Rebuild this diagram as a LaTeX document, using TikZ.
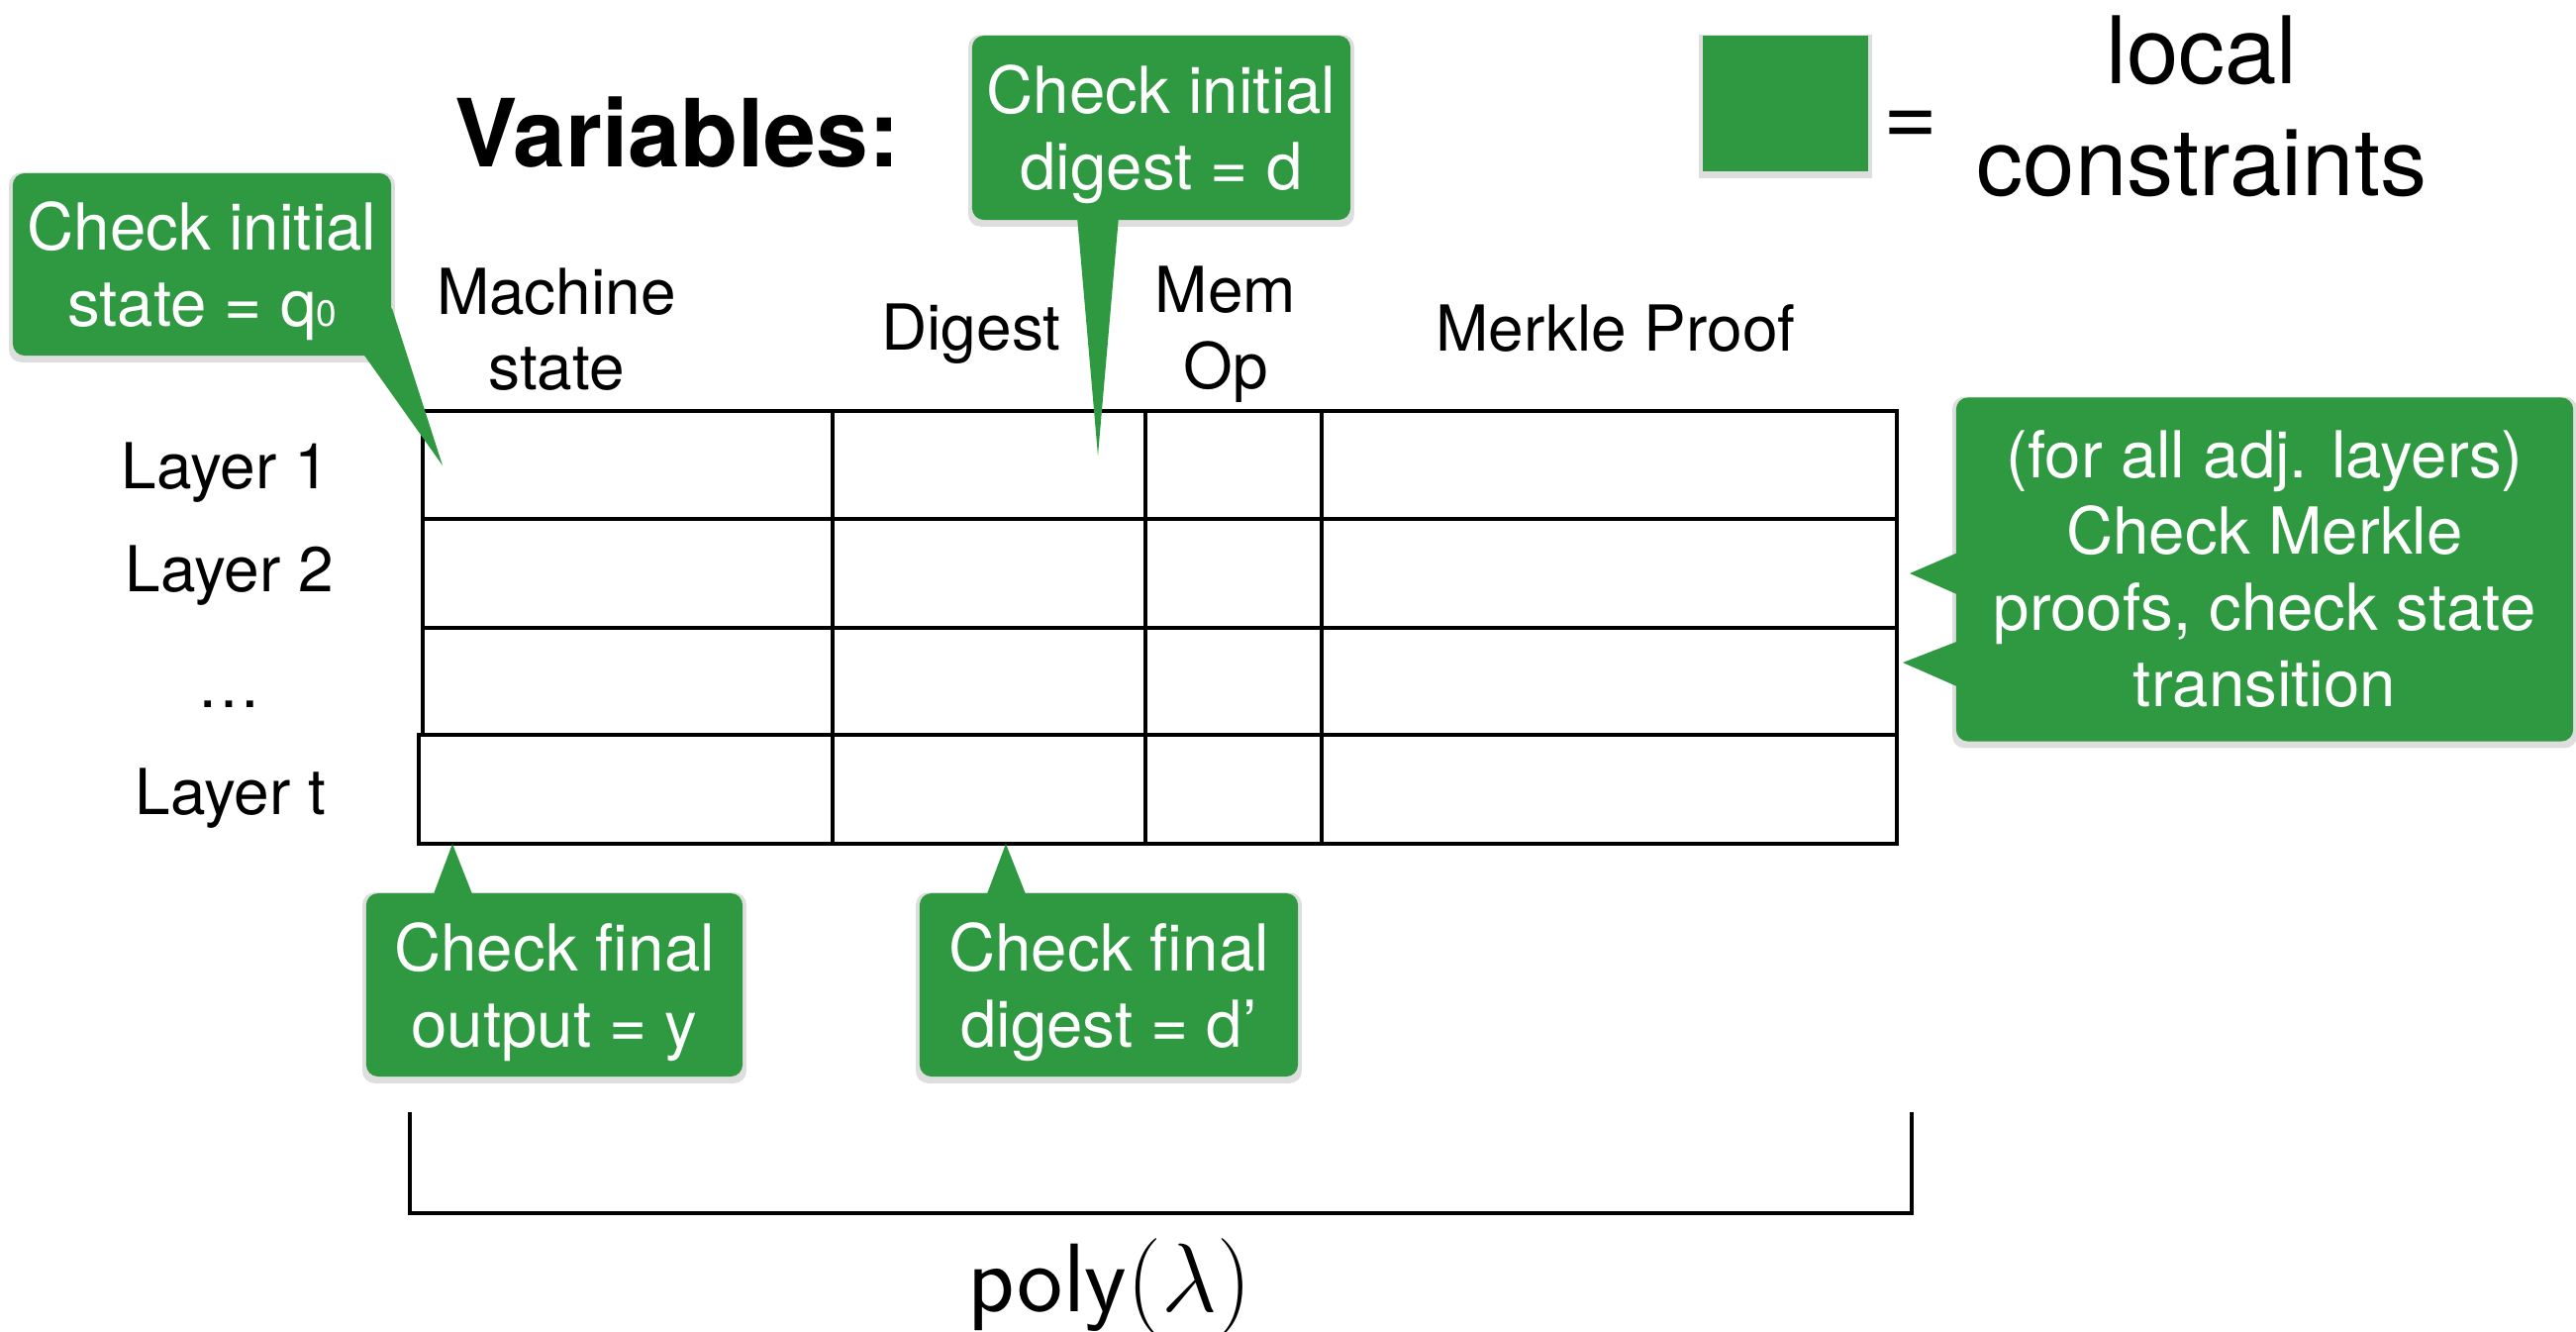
\RequirePackage{fix-cm}
\documentclass[tikz,border=0pt]{standalone}
\usepackage{fontspec}
\setmainfont{TeX Gyre Heros}
\usetikzlibrary{calc}
\definecolor{cgreen}{RGB}{47,153,66}
\newcommand\cfont{\fontsize{18.6pt}{21.9pt}\selectfont}
\newcommand\lfont{\fontsize{18.2pt}{21.7pt}\selectfont}
\newcommand\bfont{\fontsize{26.8pt}{32.7pt}\selectfont}
\pgfdeclarelayer{bg}
\pgfsetlayers{bg,main}
\begin{document}
\begin{tikzpicture}[x=0.01cm,y=-0.01cm,
  callout/.style={fill=cgreen, text=white, rounded corners=0.12cm, inner sep=0pt, align=center, font=\cfont},
  twoline/.style={text depth=0pt},
  tailfill/.style={fill=cgreen},
  lbl/.style={inner sep=0pt, anchor=base, font=\lfont},
  tbl/.style={line width=1.28pt, line join=miter},
  brk/.style={line width=1.3pt},
  shade/.style={fill=black, opacity=0.13, rounded corners=0.12cm}]
\useasboundingbox (0,0) rectangle (2602,1344);

% ---- title and legend
\node[inner sep=0pt, anchor=base, font=\fontsize{27pt}{32pt}\selectfont\bfseries] (vars) at (684,168) {Variables:};
\node[fill=cgreen, minimum width=1.67cm, minimum height=1.37cm, inner sep=0pt] (leg) at (1803.5,104.5) {};
\node[inner sep=0pt, anchor=base, font=\bfont] (eq) at (1930,147) {=};
\node[inner sep=0pt, anchor=base, font=\bfont] (loc) at (2224,84) {local};
\node[inner sep=0pt, anchor=base, font=\bfont] (cons) at (2224,197) {constraints};

% ---- column headers
\node[lbl] (hms1) at (562,317) {Machine};
\node[lbl] (hms2) at (562,393) {state};
\node[lbl] (hdg) at (981,353) {Digest};
\node[lbl] (hmo1) at (1238,315) {Mem};
\node[lbl] (hmo2) at (1238,392) {Op};
\node[lbl] (hmp) at (1632,354) {Merkle Proof};

% ---- row labels
\node[lbl] (l1) at (228,493) {Layer 1};
\node[lbl] (l2) at (232,597) {Layer 2};
\node[lbl] (l3) at (231,714) {…};
\node[lbl] (l4) at (233,822) {Layer t};

% ---- table
\draw[tbl] (427,415) rectangle (1916,742);
\draw[tbl] (427,524) -- (1916,524);
\draw[tbl] (427,634) -- (1916,634);
\draw[tbl] (423,742) rectangle (1916,852);
\foreach \cx in {841,1157,1335}{\draw[tbl] (\cx,415) -- (\cx,852);}

% ---- tail tips
\coordinate (t1) at (447,470);
\coordinate (t2) at (1109,460);
\coordinate (t3) at (457,852);
\coordinate (t4) at (1016,852);
\coordinate (t5) at (1929,579);
\coordinate (t6) at (1922,669);

% ---- callouts
\node[callout, twoline, minimum width=3.82cm, minimum height=1.84cm] (c1) at (204,267) {Check initial\\state = q{\fontsize{10.5pt}{10.5pt}\selectfont 0}};
\node[callout, twoline, minimum width=3.82cm, minimum height=1.86cm] (c2) at (1173,129) {Check initial\\digest = d};
\node[callout, twoline, minimum width=3.80cm, minimum height=1.85cm] (c3) at (560,994.5) {Check final\\output = y};
\node[callout, twoline, minimum width=3.82cm, minimum height=1.85cm] (c4) at (1120,994.5) {Check final\\digest = d’};
\node[callout, minimum width=6.23cm, minimum height=3.47cm] (c5) at (2287.5,575) {(for all adj. layers)\\Check Merkle\\proofs, check state\\transition};

\fill[tailfill] ($(c1.south east)+(-30,-4)$) -- (t1) -- ($(c1.south east)+(0,-49)$) -- cycle;
\fill[tailfill] ($(c2.south)+(-85,-4)$) -- (t2) -- ($(c2.south)+(-43,-4)$) -- cycle;
\fill[tailfill] ($(c3.north)+(-123,4)$) -- (t3) -- ($(c3.north)+(-82,4)$) -- cycle;
\fill[tailfill] ($(c4.north)+(-124,4)$) -- (t4) -- ($(c4.north)+(-83,4)$) -- cycle;
\fill[tailfill] ($(c5.west)+(14,-22)$) -- (t5) -- ($(c5.west)+(6,27)$) -- cycle;
\fill[tailfill] ($(c5.west)+(14,68)$) -- (t6) -- ($(c5.west)+(6,120)$) -- cycle;

% ---- soft shadows
\begin{pgfonlayer}{bg}
\foreach \n in {c1,c2,c3,c4,c5}{
  \fill[shade] ($(\n.south west)+(-3,6)$) rectangle ($(\n.north east)+(3,0)$);
}
\fill[shade, rounded corners=0pt] ($(leg.south west)+(-3,6)$) rectangle ($(leg.north east)+(3,0)$);
\end{pgfonlayer}

% ---- bracket
\coordinate (b1) at (414,1123);
\coordinate (b2) at (1931,1123);
\draw[brk] (b1) -- (b1 |- 0,1225) -- (b2 |- 0,1225) -- (b2);
\node[inner sep=0pt, anchor=base, font=\fontsize{28pt}{32pt}\selectfont] (poly) at (1121,1324) {{\sffamily poly}$(\lambda)$};
\end{tikzpicture}
\end{document}
